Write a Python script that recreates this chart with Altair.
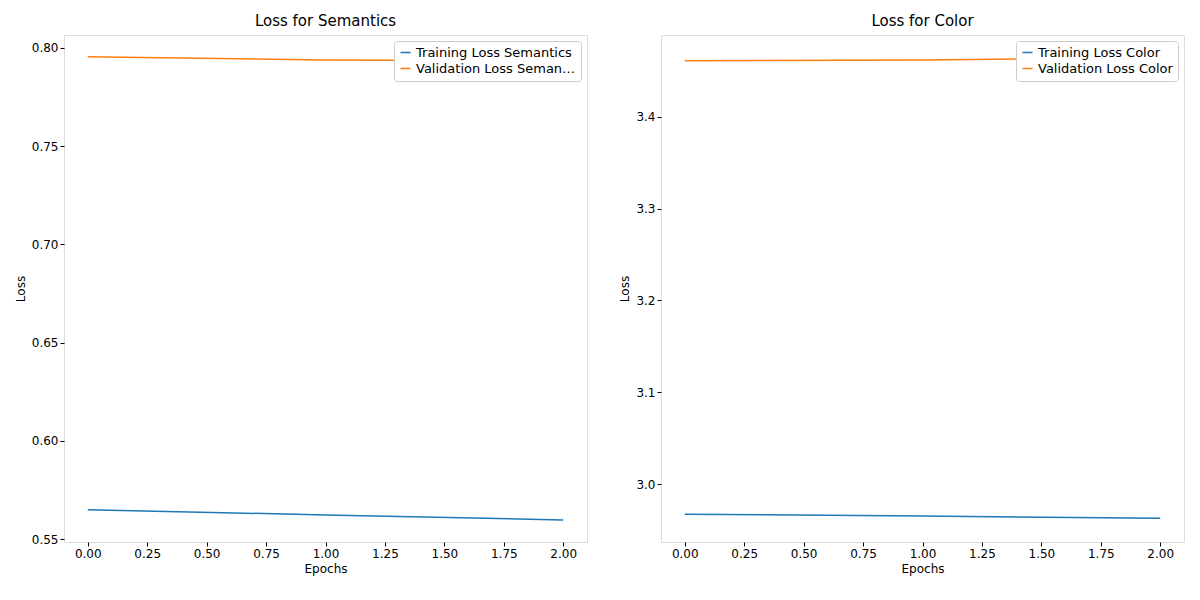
import altair as alt
import pandas as pd

epochs = [0, 1, 2]
train_sem = [0.5649, 0.5623, 0.5597]
val_sem = [0.7954, 0.7938, 0.7933]
train_col = [2.9673, 2.9652, 2.9629]
val_col = [3.4610, 3.4618, 3.4643]

FONT = "DejaVu Sans"


def ax(**kw):
    return alt.Axis(grid=False, domain=False, tickColor="black", labelColor="black",
                    titleColor="black", labelFont=FONT, titleFont=FONT,
                    labelFontSize=12, titleFontSize=12, titleFontWeight="normal",
                    tickSize=4, offset=0, **kw)


def panel(title, name, train, val, ydom, yticks):
    labels = [f"Training Loss {name}", f"Validation Loss {name}"]
    df = pd.DataFrame({
        "Epochs": epochs * 2,
        "Loss": train + val,
        "series": [labels[0]] * 3 + [labels[1]] * 3,
    })
    return alt.Chart(df, title=alt.Title(title, fontSize=15, fontWeight="normal", font=FONT, offset=6)).mark_line(strokeWidth=1.5).encode(
        x=alt.X("Epochs:Q", scale=alt.Scale(domain=[-0.1, 2.1], nice=False),
                axis=ax(values=[i * 0.25 for i in range(9)], format=".2f")),
        y=alt.Y("Loss:Q", scale=alt.Scale(domain=ydom, nice=False, zero=False),
                axis=ax(values=yticks, format=".2f" if ydom[1] < 1 else ".1f")),
        color=alt.Color("series:N", sort=labels,
                        scale=alt.Scale(domain=labels, range=["#1f77b4", "#ff7f0e"]),
                        legend=alt.Legend(title=None, orient="top-right", offset=6,
                                          symbolType="stroke", symbolStrokeWidth=1.5,
                                          fillColor="white", strokeColor="#cccccc",
                                          padding=5, cornerRadius=3, labelFontSize=13,
                                          labelFont=FONT)),
    ).properties(width=523, height=507)


left = panel("Loss for Semantics", "Semantics", train_sem, val_sem,
             [0.5485, 0.8065], [0.55, 0.60, 0.65, 0.70, 0.75, 0.80])
right = panel("Loss for Color", "Color", train_col, val_col,
              [2.937, 3.489], [3.0, 3.1, 3.2, 3.3, 3.4])

chart = alt.hconcat(left, right, spacing=30).resolve_scale(color="independent").configure_view(
    stroke="black", strokeWidth=1
).configure(background="white")

chart.save("out.html", embed_options={"renderer": "svg", "actions": False})
